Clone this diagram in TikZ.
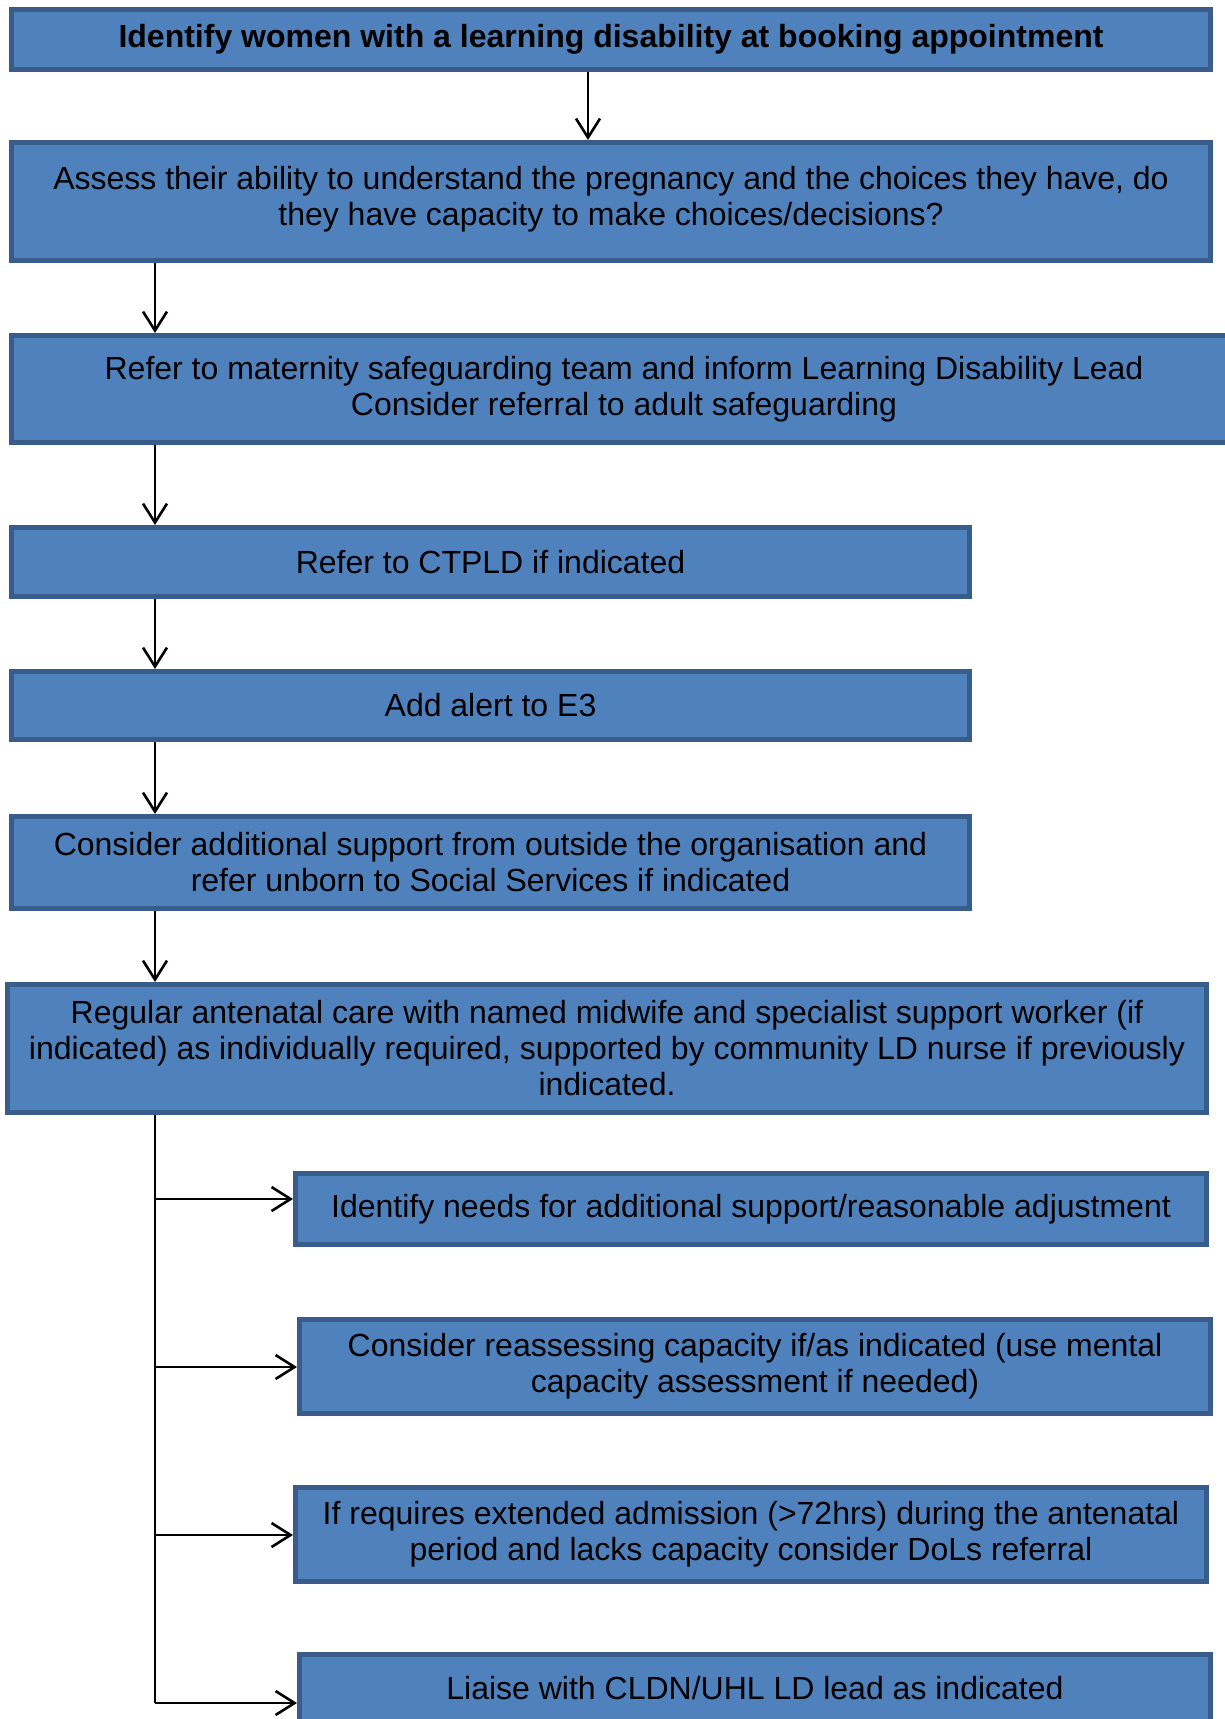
\documentclass[tikz,border=0pt]{standalone}
\usepackage{fontspec}
\setmainfont{Liberation Sans}
\usetikzlibrary{arrows.meta}
\definecolor{boxfill}{HTML}{4F81BD}
\definecolor{boxline}{HTML}{385D8A}
\begin{document}
\begin{tikzpicture}[x=1pt,y=-1pt,
    box/.style={draw=boxline,fill=boxfill,line width=5pt,inner sep=0pt,
      align=center,anchor=north west,font=\fontsize{32}{36}\selectfont},
    link/.style={line width=2.6pt},
    arr/.style={line width=2.6pt,-{Straight Barb[length=19pt,width=24pt]}}]
                  \useasboundingbox (0,0) rectangle (1225,1719);
                  \clip (0,0) rectangle (1225,1719);

                  % main steps
                  \node[box,minimum width=1199,minimum height=60,font=\fontsize{32}{36}\selectfont\bfseries]
                      (identify) at (9,7) {Identify women with a learning disability at booking appointment};
                  \node[box,minimum width=1199,minimum height=118] (assess) at (9,140)
                      {Assess their ability to understand the pregnancy and the choices they have, do\\they have capacity to make choices/decisions?\\[-25pt]};
                  \node[box,minimum width=1225,minimum height=107] (refer) at (9,333)
                      {Refer to maternity safeguarding team and inform Learning Disability Lead\\Consider referral to adult safeguarding};
                  \node[box,minimum width=958,minimum height=69] (ctpld) at (9,525)
                      {Refer to CTPLD if indicated};
                  \node[box,minimum width=958,minimum height=68] (alert) at (9,669)
                      {Add alert to E3};
                  \node[box,minimum width=958,minimum height=92] (support) at (9,814)
                      {Consider additional support from outside the organisation and\\refer unborn to Social Services if indicated};
                  \node[box,minimum width=1199,minimum height=128] (care) at (5,982)
                      {Regular antenatal care with named midwife and specialist support worker (if\\indicated) as individually required, supported by community LD nurse if previously\\indicated.};

                  % side steps
                  \node[box,minimum width=911,minimum height=71] (needs) at (293,1171)
                      {Identify needs for additional support/reasonable adjustment};
                  \node[box,minimum width=911,minimum height=94] (capacity) at (297,1317)
                      {Consider reassessing capacity if/as indicated (use mental\\capacity assessment if needed)};
                  \node[box,minimum width=911,minimum height=94] (dols) at (293,1485)
                      {If requires extended admission (>72hrs) during the antenatal\\period and lacks capacity consider DoLs referral};
                  \node[box,minimum width=911,minimum height=67] (liaise) at (297,1652)
                      {Liaise with CLDN/UHL LD lead as indicated};

                  \coordinate (top) at (588,0);
                  \coordinate (trunk) at (155,0);
                  \coordinate (j1) at (155,1199);
                  \coordinate (j2) at (155,1367);
                  \coordinate (j3) at (155,1535);
                  \coordinate (j4) at (155,1703);

                  \draw[arr] (identify.south -| top) -- (assess.north -| top);
                  \foreach \a/\b in {assess/refer,refer/ctpld,ctpld/alert,alert/support,support/care} {
                          \draw[arr] (\a.south -| trunk) -- (\b.north -| trunk);
                      }
                  \draw[link] (care.south -| trunk) -- (j4);
                  \foreach \j/\b in {j1/needs,j2/capacity,j3/dols,j4/liaise} {
                          \draw[arr] (\j) -- (\j -| \b.west);
                      }
              \end{tikzpicture}
\end{document}
